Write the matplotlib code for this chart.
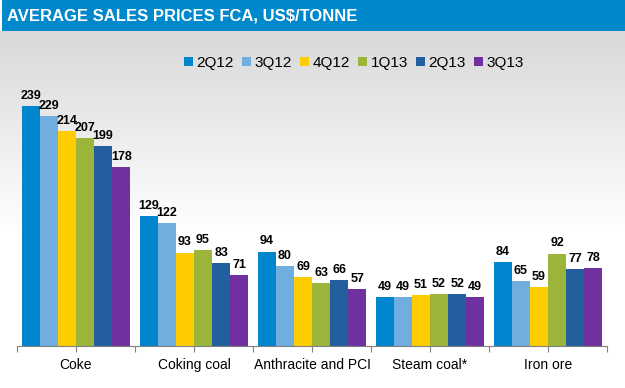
import numpy as np
import matplotlib.pyplot as plt
from matplotlib.patches import Rectangle

categories = ['Coke', 'Coking coal', 'Anthracite and PCI', 'Steam coal*', 'Iron ore']
quarters = ['2Q12', '3Q12', '4Q12', '1Q13', '2Q13', '3Q13']
prices = {
    '2Q12': [239, 129, 94, 49, 84],
    '3Q12': [229, 122, 80, 49, 65],
    '4Q12': [214, 93, 69, 51, 59],
    '1Q13': [207, 95, 63, 52, 92],
    '2Q13': [199, 83, 66, 52, 77],
    '3Q13': [178, 71, 57, 49, 78],
}
colors = ['#0085CF', '#6FAEDF', '#FFCC00', '#9BB53A', '#235E9F', '#7030A0']
title = 'AVERAGE SALES PRICES FCA, US$/TONNE'

plt.rcParams['font.family'] = ['Liberation Sans', 'DejaVu Sans']

W, H = 625, 388
fig = plt.figure(figsize=(W / 100, H / 100), dpi=100)

# background gradient + title bar
bg = fig.add_axes([0, 0, 1, 1], zorder=-10)
bg.set_axis_off()
grad = np.ones((H, 1))
top, bottom = 31, 230
for i in range(H):
    if top <= i <= bottom:
        grad[i] = 0.85 + 0.15 * (i - top) / (bottom - top)
grad = np.dstack([grad, grad, grad])
bg.imshow(grad, aspect='auto', extent=[0, W, H, 0])
bg.set_xlim(0, W)
bg.set_ylim(H, 0)
bg.add_patch(Rectangle((2, 0), W - 2, 31, color='#0088CC', lw=0))
bg.text(7, 16, title, color='white', fontsize=12, fontweight='bold', va='center', ha='left')

ax = fig.add_axes([17 / W, 42 / H, 590 / W, 286.5 / H])
ax.patch.set_alpha(0)
x = np.arange(len(categories))
width = 0.153
for i, q in enumerate(quarters):
    pos = x + (i - 2.5) * width
    bars = ax.bar(pos, prices[q], width, color=colors[i], label=q, lw=0)
    for b, v in zip(bars, prices[q]):
        ax.text(b.get_x() + b.get_width() / 2, v + 4, str(v), ha='center', va='bottom',
                fontsize=9, fontweight='bold')

ax.set_xlim(-0.5, len(categories) - 0.5)
ax.set_ylim(0, 285)
ax.set_yticks([])
for s in ['top', 'right', 'left']:
    ax.spines[s].set_visible(False)
ax.spines['bottom'].set_color('#808080')
ax.set_xticks(np.arange(-0.5, len(categories), 0.5))
ax.set_xticklabels([])
ax.tick_params(axis='x', length=4, color='#808080')
for i, c in enumerate(categories):
    ax.text(i, -19, c, ha='center', va='center', fontsize=10)

fig.legend(loc='upper left', bbox_to_anchor=(170 / W, 1 - 42 / H), ncol=6, frameon=False,
           handlelength=0.6, handleheight=0.6, handletextpad=0.25, columnspacing=0.5,
           fontsize=11)

fig.savefig('out.png', dpi=100)
